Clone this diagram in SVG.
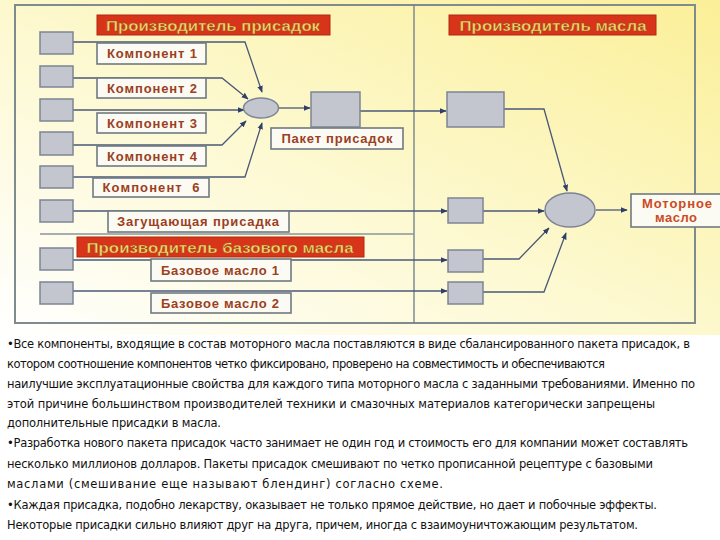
<svg xmlns="http://www.w3.org/2000/svg" width="720" height="540" viewBox="0 0 720 540">
<defs>
<linearGradient id="bg" x1="1" y1="0" x2="0" y2="1">
<stop offset="0" stop-color="#fbef98"/>
<stop offset="0.55" stop-color="#fdf9d2"/>
<stop offset="1" stop-color="#ffffff"/>
</linearGradient>
<marker id="arr" viewBox="0 0 10 10" refX="9" refY="5" markerWidth="7" markerHeight="7" orient="auto" markerUnits="userSpaceOnUse">
<path d="M0,1 L10,5 L0,9 z" fill="#2f3f6a"/>
</marker>
<style>
.frame{fill:none;stroke:#7e8c90;stroke-width:2}
.sq{fill:#c3c6cf;stroke:#7d8594;stroke-width:1.5}
.lbl{fill:#fbfbf4;stroke:#707a80;stroke-width:1.6}
.lt{font-family:"Liberation Sans",Arial,sans-serif;font-weight:bold;font-size:13px;fill:#9c3f22}
.mt{font-family:"Liberation Sans",Arial,sans-serif;font-weight:bold;font-size:13px;fill:#cc4a22}
.hdr{fill:#d8341a;stroke:#b02810;stroke-width:1}
.ht{font-family:"Liberation Sans",Arial,sans-serif;font-weight:bold;font-size:15px;fill:#f6dc6a;stroke:#8a4a20;stroke-width:0.4}
.ca{fill:none;stroke:#4a5878;stroke-width:1.3;marker-end:url(#arr)}
.body{font-family:"DejaVu Sans","Liberation Sans",sans-serif;font-size:11.5px;fill:#111}
</style>
</defs>
<rect x="0" y="0" width="720" height="540" fill="#ffffff"/>
<rect x="0" y="0" width="720" height="335" fill="url(#bg)"/>
<rect class="frame" x="15" y="5" width="680" height="318"/>
<line x1="414" y1="5" x2="414" y2="323" stroke="#6c7c88" stroke-width="1.3"/>
<line x1="40" y1="234" x2="414" y2="234" stroke="#8a9498" stroke-width="1.3"/>

<g id="connectors">
<polyline class="ca" points="73,42 245,42 262,92"/>
<polyline class="ca" points="73,78 222,78 248,99"/>
<polyline class="ca" points="73,110 244,110"/>
<polyline class="ca" points="73,145 222,145 246,121"/>
<polyline class="ca" points="73,177 245,177 262,123"/>
<line class="ca" x1="279" y1="108" x2="310" y2="108"/>
<line class="ca" x1="360" y1="111" x2="446" y2="111"/>
<polyline class="ca" points="504,109 544,109 567,191"/>
<line class="ca" x1="73" y1="211" x2="447" y2="211"/>
<line class="ca" x1="483" y1="211" x2="544" y2="211"/>
<line class="ca" x1="73" y1="260" x2="447" y2="260"/>
<line class="ca" x1="73" y1="291" x2="447" y2="291"/>
<polyline class="ca" points="483,259 519,259 549,228"/>
<polyline class="ca" points="483,292 544,292 566,233"/>
<line class="ca" x1="596" y1="210" x2="627" y2="210"/>
</g>

<g id="hdr-additive"><rect class="hdr" x="97" y="15" width="233" height="20"/><text class="ht" x="213" y="31" text-anchor="middle" textLength="214" lengthAdjust="spacingAndGlyphs">Производитель присадок</text></g>
<g id="hdr-oil"><rect class="hdr" x="449" y="15" width="207" height="20"/><text class="ht" x="553" y="31" text-anchor="middle" textLength="187" lengthAdjust="spacingAndGlyphs">Производитель масла</text></g>

<g id="src1"><rect class="sq" x="40" y="32" width="33" height="22"/></g>
<g id="src2"><rect class="sq" x="40" y="66" width="33" height="21"/></g>
<g id="src3"><rect class="sq" x="40" y="99" width="33" height="22"/></g>
<g id="src4"><rect class="sq" x="40" y="132" width="33" height="23"/></g>
<g id="src5"><rect class="sq" x="40" y="166" width="33" height="22"/></g>
<g id="src6"><rect class="sq" x="40" y="200" width="33" height="22"/></g>
<g id="src7"><rect class="sq" x="40" y="248" width="33" height="22"/></g>
<g id="src8"><rect class="sq" x="40" y="282" width="33" height="22"/></g>

<g id="lbl-k1"><rect class="lbl" x="97" y="43" width="109" height="21"/><text class="lt" x="152" y="58" text-anchor="middle" textLength="90">Компонент 1</text></g>
<g id="lbl-k2"><rect class="lbl" x="97" y="78" width="109" height="20"/><text class="lt" x="152" y="92.5" text-anchor="middle" textLength="90">Компонент 2</text></g>
<g id="lbl-k3"><rect class="lbl" x="97" y="113" width="109" height="20"/><text class="lt" x="152" y="127.5" text-anchor="middle" textLength="90">Компонент 3</text></g>
<g id="lbl-k4"><rect class="lbl" x="97" y="146" width="109" height="20"/><text class="lt" x="152" y="160.5" text-anchor="middle" textLength="90">Компонент 4</text></g>
<g id="lbl-k6"><rect class="lbl" x="93" y="178" width="116" height="19"/><text class="lt" x="151" y="192" text-anchor="middle" textLength="97" xml:space="preserve">Компонент  6</text></g>
<g id="lbl-thick"><rect class="lbl" x="108" y="211" width="181" height="21"/><text class="lt" x="198" y="226" text-anchor="middle" textLength="162">Загущающая присадка</text></g>

<g id="hdr-base"><rect class="hdr" x="77" y="237" width="287" height="20"/><text class="ht" x="220" y="253" text-anchor="middle" textLength="267" lengthAdjust="spacingAndGlyphs">Производитель базового масла</text></g>

<g id="lbl-bo1"><rect class="lbl" x="151" y="259" width="140" height="22"/><text class="lt" x="220" y="274.5" text-anchor="middle" textLength="118">Базовое масло 1</text></g>
<g id="lbl-bo2"><rect class="lbl" x="151" y="293" width="140" height="20"/><text class="lt" x="220" y="307.5" text-anchor="middle" textLength="118">Базовое масло 2</text></g>

<g id="mix1"><ellipse class="sq" cx="261" cy="108" rx="17.5" ry="10"/></g>
<g id="packet"><rect class="sq" x="311" y="92" width="49" height="35"/></g>
<g id="lbl-packet"><rect class="lbl" x="271" y="128" width="132" height="21"/><text class="lt" x="337" y="143" text-anchor="middle" textLength="111">Пакет присадок</text></g>

<g id="oil-packet"><rect class="sq" x="447" y="92" width="57" height="35"/></g>
<g id="oil-thick"><rect class="sq" x="448" y="198" width="35" height="25"/></g>
<g id="oil-bo1"><rect class="sq" x="448" y="250" width="35" height="22"/></g>
<g id="oil-bo2"><rect class="sq" x="448" y="282" width="35" height="22"/></g>
<g id="mix2"><ellipse class="sq" cx="570" cy="210" rx="25" ry="17"/></g>
<g id="motor-oil"><rect class="lbl" x="631" y="194" width="95" height="33"/><text class="mt" x="677" y="208" text-anchor="middle" textLength="70">Моторное</text><text class="mt" x="676" y="222" text-anchor="middle" textLength="42">масло</text></g>

<g id="body-text" class="body" xml:space="preserve">
<text x="7" y="348" textLength="683">•Все компоненты, входящие в состав моторного масла поставляются в виде сбалансированного пакета присадок, в</text>
<text x="7" y="368" textLength="598">котором соотношение  компонентов  четко  фиксировано,  проверено  на  совместимость  и обеспечиваются</text>
<text x="7" y="388" textLength="688">наилучшие эксплуатационные свойства для каждого типа моторного масла с заданными требованиями. Именно по</text>
<text x="7" y="408" textLength="648">этой причине большинством производителей техники и  смазочных  материалов  категорически  запрещены</text>
<text x="7" y="427" textLength="214">дополнительные присадки в масла.</text>
<text x="7" y="447" textLength="681">•Разработка нового пакета присадок часто занимает не один год и стоимость его для компании может составлять</text>
<text x="7" y="468" textLength="646">несколько миллионов долларов. Пакеты присадок смешивают по четко прописанной рецептуре с  базовыми</text>
<text x="7" y="488" textLength="436">маслами  (смешивание  еще  называют  блендинг)  согласно  схеме.</text>
<text x="7" y="509" textLength="650">•Каждая присадка, подобно лекарству, оказывает не только прямое действие, но дает и побочные эффекты.</text>
<text x="7" y="529" textLength="631">Некоторые присадки сильно влияют друг на друга, причем, иногда с взаимоуничтожающим результатом.</text>
</g>
</svg>
